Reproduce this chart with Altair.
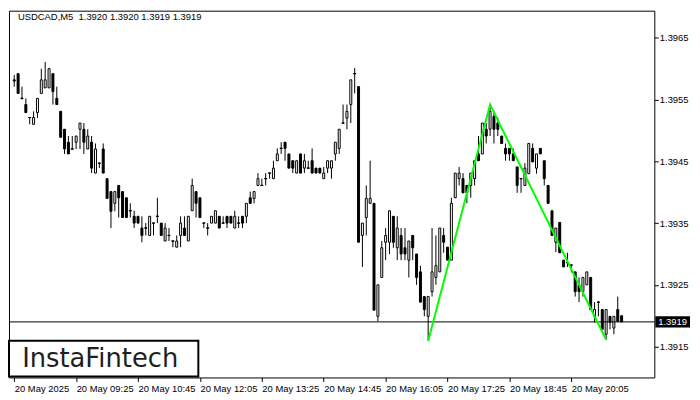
import altair as alt
import pandas as pd

opens = [
    1.39582, 1.39592, 1.39552, 1.39542, 1.39521, 1.39510, 1.39529, 1.39560, 1.39569, 1.39569,
    1.39592, 1.39552, 1.39531, 1.39502, 1.39481, 1.39470, 1.39481, 1.39502, 1.39502, 1.39470,
    1.39481, 1.39431, 1.39447, 1.39470, 1.39422, 1.39401, 1.39382, 1.39411, 1.39401, 1.39391,
    1.39370, 1.39361, 1.39361, 1.39342, 1.39342, 1.39330, 1.39350, 1.39361, 1.39350, 1.39321,
    1.39330, 1.39321, 1.39311, 1.39330, 1.39342, 1.39321, 1.39370, 1.39401, 1.39391, 1.39350,
    1.39342, 1.39350, 1.39350, 1.39361, 1.39350, 1.39361, 1.39361, 1.39342, 1.39350, 1.39361,
    1.39361, 1.39391, 1.39390, 1.39411, 1.39411, 1.39422, 1.39431, 1.39422, 1.39451, 1.39471,
    1.39481, 1.39462, 1.39451, 1.39431, 1.39462, 1.39439, 1.39439, 1.39451, 1.39439, 1.39439,
    1.39422, 1.39439, 1.39439, 1.39462, 1.39471, 1.39512, 1.39520, 1.39542, 1.39592, 1.39571,
    1.39330, 1.39359, 1.39382, 1.39382, 1.39199, 1.39262, 1.39319, 1.39319, 1.39361, 1.39310,
    1.39330, 1.39310, 1.39290, 1.39330, 1.39300, 1.39271, 1.39231, 1.39199, 1.39239, 1.39262,
    1.39271, 1.39330, 1.39311, 1.39290, 1.39391, 1.39422, 1.39422, 1.39411, 1.39411, 1.39422,
    1.39462, 1.39462, 1.39502, 1.39502, 1.39523, 1.39512, 1.39491, 1.39471, 1.39471, 1.39462,
    1.39441, 1.39422, 1.39411, 1.39430, 1.39471, 1.39439, 1.39471, 1.39451, 1.39411, 1.39370,
    1.39319, 1.39351, 1.39290, 1.39286, 1.39282, 1.39271, 1.39250, 1.39239, 1.39250, 1.39262,
    1.39199, 1.39222, 1.39210, 1.39170, 1.39199, 1.39180, 1.39210, 1.39200,
]
highs = [
    1.39590, 1.39592, 1.39571, 1.39552, 1.39521, 1.39531, 1.39552, 1.39600, 1.39611, 1.39601,
    1.39592, 1.39571, 1.39531, 1.39502, 1.39491, 1.39491, 1.39491, 1.39512, 1.39512, 1.39502,
    1.39491, 1.39479, 1.39447, 1.39479, 1.39422, 1.39401, 1.39401, 1.39411, 1.39401, 1.39391,
    1.39382, 1.39370, 1.39361, 1.39361, 1.39350, 1.39361, 1.39350, 1.39391, 1.39350, 1.39350,
    1.39342, 1.39321, 1.39330, 1.39361, 1.39361, 1.39361, 1.39422, 1.39401, 1.39391, 1.39350,
    1.39350, 1.39361, 1.39370, 1.39361, 1.39361, 1.39361, 1.39361, 1.39370, 1.39361, 1.39361,
    1.39382, 1.39401, 1.39401, 1.39431, 1.39422, 1.39431, 1.39431, 1.39451, 1.39471, 1.39481,
    1.39481, 1.39462, 1.39451, 1.39451, 1.39462, 1.39462, 1.39451, 1.39471, 1.39439, 1.39439,
    1.39441, 1.39451, 1.39451, 1.39481, 1.39502, 1.39542, 1.39542, 1.39582, 1.39601, 1.39571,
    1.39350, 1.39411, 1.39451, 1.39382, 1.39250, 1.39321, 1.39342, 1.39370, 1.39361, 1.39361,
    1.39342, 1.39342, 1.39321, 1.39330, 1.39300, 1.39281, 1.39231, 1.39231, 1.39342, 1.39330,
    1.39342, 1.39342, 1.39311, 1.39391, 1.39431, 1.39441, 1.39431, 1.39411, 1.39431, 1.39451,
    1.39491, 1.39512, 1.39512, 1.39542, 1.39531, 1.39521, 1.39491, 1.39479, 1.39471, 1.39471,
    1.39441, 1.39422, 1.39447, 1.39479, 1.39479, 1.39462, 1.39471, 1.39451, 1.39411, 1.39370,
    1.39342, 1.39351, 1.39290, 1.39302, 1.39282, 1.39271, 1.39262, 1.39262, 1.39271, 1.39262,
    1.39222, 1.39222, 1.39210, 1.39210, 1.39199, 1.39199, 1.39231, 1.39200,
]
lows = [
    1.39571, 1.39560, 1.39550, 1.39529, 1.39510, 1.39510, 1.39520, 1.39560, 1.39569, 1.39569,
    1.39542, 1.39542, 1.39489, 1.39462, 1.39462, 1.39470, 1.39470, 1.39470, 1.39462, 1.39470,
    1.39431, 1.39431, 1.39439, 1.39431, 1.39390, 1.39342, 1.39369, 1.39359, 1.39359, 1.39359,
    1.39359, 1.39342, 1.39350, 1.39319, 1.39330, 1.39330, 1.39330, 1.39350, 1.39330, 1.39321,
    1.39321, 1.39311, 1.39311, 1.39311, 1.39330, 1.39321, 1.39370, 1.39359, 1.39359, 1.39342,
    1.39330, 1.39350, 1.39350, 1.39342, 1.39350, 1.39342, 1.39350, 1.39342, 1.39342, 1.39342,
    1.39350, 1.39382, 1.39382, 1.39411, 1.39411, 1.39411, 1.39422, 1.39422, 1.39451, 1.39462,
    1.39451, 1.39439, 1.39431, 1.39431, 1.39431, 1.39431, 1.39439, 1.39431, 1.39431, 1.39431,
    1.39422, 1.39431, 1.39422, 1.39451, 1.39462, 1.39512, 1.39502, 1.39512, 1.39560, 1.39319,
    1.39279, 1.39330, 1.39382, 1.39209, 1.39191, 1.39262, 1.39290, 1.39300, 1.39310, 1.39290,
    1.39290, 1.39290, 1.39262, 1.39290, 1.39250, 1.39222, 1.39199, 1.39159, 1.39231, 1.39250,
    1.39271, 1.39302, 1.39290, 1.39290, 1.39391, 1.39411, 1.39399, 1.39382, 1.39391, 1.39411,
    1.39451, 1.39462, 1.39479, 1.39491, 1.39479, 1.39491, 1.39479, 1.39451, 1.39451, 1.39451,
    1.39399, 1.39399, 1.39411, 1.39430, 1.39449, 1.39430, 1.39462, 1.39411, 1.39382, 1.39330,
    1.39303, 1.39302, 1.39279, 1.39279, 1.39270, 1.39231, 1.39222, 1.39231, 1.39250, 1.39210,
    1.39189, 1.39199, 1.39178, 1.39161, 1.39178, 1.39170, 1.39191, 1.39190,
]
closes = [
    1.39580, 1.39560, 1.39552, 1.39529, 1.39521, 1.39521, 1.39552, 1.39582, 1.39582, 1.39600,
    1.39563, 1.39542, 1.39489, 1.39470, 1.39462, 1.39470, 1.39491, 1.39512, 1.39481, 1.39491,
    1.39439, 1.39470, 1.39447, 1.39431, 1.39390, 1.39369, 1.39401, 1.39391, 1.39359, 1.39359,
    1.39370, 1.39350, 1.39350, 1.39330, 1.39342, 1.39361, 1.39350, 1.39361, 1.39330, 1.39342,
    1.39330, 1.39321, 1.39321, 1.39350, 1.39330, 1.39361, 1.39411, 1.39382, 1.39359, 1.39350,
    1.39342, 1.39361, 1.39370, 1.39342, 1.39350, 1.39350, 1.39350, 1.39361, 1.39350, 1.39350,
    1.39382, 1.39382, 1.39401, 1.39422, 1.39411, 1.39422, 1.39431, 1.39439, 1.39462, 1.39471,
    1.39471, 1.39439, 1.39439, 1.39451, 1.39431, 1.39451, 1.39439, 1.39431, 1.39431, 1.39431,
    1.39431, 1.39451, 1.39451, 1.39481, 1.39502, 1.39512, 1.39531, 1.39582, 1.39592, 1.39319,
    1.39350, 1.39390, 1.39390, 1.39209, 1.39250, 1.39310, 1.39330, 1.39370, 1.39319, 1.39342,
    1.39300, 1.39300, 1.39321, 1.39310, 1.39262, 1.39222, 1.39210, 1.39231, 1.39271, 1.39281,
    1.39342, 1.39319, 1.39290, 1.39382, 1.39431, 1.39431, 1.39399, 1.39399, 1.39431, 1.39451,
    1.39451, 1.39512, 1.39491, 1.39531, 1.39502, 1.39502, 1.39479, 1.39462, 1.39462, 1.39451,
    1.39411, 1.39422, 1.39439, 1.39479, 1.39449, 1.39462, 1.39462, 1.39422, 1.39382, 1.39330,
    1.39342, 1.39302, 1.39279, 1.39286, 1.39282, 1.39239, 1.39239, 1.39262, 1.39271, 1.39210,
    1.39210, 1.39222, 1.39178, 1.39210, 1.39189, 1.39199, 1.39191, 1.39190,
]

tick_idx = [1, 17, 33, 49, 65, 81, 97, 113, 129, 145]
tick_labels = ["20 May 2025", "20 May 09:25", "20 May 10:45", "20 May 12:05", "20 May 13:25",
               "20 May 14:45", "20 May 16:05", "20 May 17:25", "20 May 18:45", "20 May 20:05"]
price_ticks = [1.3915, 1.3925, 1.3935, 1.3945, 1.3955, 1.3965]
pattern_idx = [108, 124, 154]
pattern_price = [1.39159, 1.39542, 1.39161]
last_price = 1.3919
title_text = "USDCAD,M5\u00a0\u00a01.3920 1.3920 1.3919 1.3919"
logo_text = "InstaFintech"

FONT = "Liberation Sans"
W, H = 651, 370

n = min(len(opens), len(highs), len(lows), len(closes))
df = pd.DataFrame({
    "i": list(range(1, n + 1)),
    "open": opens[:n], "high": highs[:n], "low": lows[:n], "close": closes[:n],
})

label_array = "[" + ",".join("'%s'" % t for t in tick_labels) + "]"
xscale = alt.Scale(domain=[0.925, 165.175], nice=False, zero=False)
yscale = alt.Scale(domain=[1.39100, 1.39694], nice=False, zero=False)

xaxis = alt.Axis(values=tick_idx, labelExpr=label_array + "[round((datum.value-1)/16)]",
                 labelAlign="left", labelFlush=False, labelOverlap=False, labelFont=FONT,
                 labelFontSize=9.5, labelColor="black", tickColor="black", tickSize=4,
                 labelPadding=2, domain=False, grid=False, title=None)
yaxis = alt.Axis(orient="right", values=price_ticks, format=".4f", labelFont=FONT,
                 labelFontSize=9.5, labelColor="black", tickColor="black", tickSize=4,
                 labelPadding=1, domain=False, grid=False, title=None, labelOverlap=False)

base = alt.Chart(df)
wicks = base.mark_rule(color="black", strokeWidth=1).encode(
    x=alt.X("i:Q", scale=xscale, axis=xaxis),
    y=alt.Y("low:Q", scale=yscale, axis=yaxis),
    y2="high:Q",
)
bodies = base.mark_bar(size=2, stroke="black", strokeWidth=1).encode(
    x="i:Q",
    y="open:Q",
    y2="close:Q",
    fill=alt.condition("datum.close >= datum.open", alt.value("white"), alt.value("black")),
)
dojis = base.transform_filter("datum.open == datum.close").transform_calculate(
    xa="datum.i - 0.38", xb="datum.i + 0.38"
).mark_rule(color="black", strokeWidth=1).encode(x="xa:Q", x2="xb:Q", y="open:Q")

one = pd.DataFrame({"p": [last_price], "t": ["%.4f" % last_price]})
hline = alt.Chart(one).mark_rule(color="black", strokeWidth=1).encode(y="p:Q")

pat = pd.DataFrame({"i": pattern_idx, "p": pattern_price})
pattern = alt.Chart(pat).mark_line(color="#00ff00", strokeWidth=2).encode(x="i:Q", y="p:Q")

box = alt.Chart(one).mark_point(shape="M-1,-0.33H1V0.33H-1Z", size=1225, filled=True,
                                 fill="black", opacity=1, strokeWidth=0).encode(
    x=alt.value(W + 18.5), y="p:Q")
box_text = alt.Chart(one).mark_text(color="white", font=FONT, fontSize=9.5, align="center",
                                    baseline="middle").encode(
    x=alt.value(W + 18.5), y="p:Q", text="t:N")

tdf = pd.DataFrame({"t": [title_text]})
title = alt.Chart(tdf).mark_text(font=FONT, fontSize=9.5, color="black", align="left",
                                 baseline="alphabetic").encode(
    x=alt.value(9), y=alt.value(9), text="t:N")

ldf = pd.DataFrame({"t": [logo_text]})
logo_box = alt.Chart(ldf).mark_rect(fill="white", stroke="black", strokeWidth=2).encode(
    x=alt.value(0), x2=alt.value(191), y=alt.value(333), y2=alt.value(369))
logo = alt.Chart(ldf).mark_text(font="DejaVu Sans", fontSize=26, color="#1e1e1e",
                                align="center", baseline="middle").encode(
    x=alt.value(92), y=alt.value(351), text="t:N")

chart = alt.layer(wicks, bodies, dojis, hline, pattern, logo_box, logo, title, box, box_text).properties(
    width=W, height=H,
    autosize=alt.AutoSizeParams(type="none"),
    padding={"left": 1, "top": 1, "right": 38, "bottom": 18},
    background="white",
).configure_view(stroke="black", strokeWidth=1)

chart.save("out.html", embed_options={"renderer": "svg", "actions": False})
